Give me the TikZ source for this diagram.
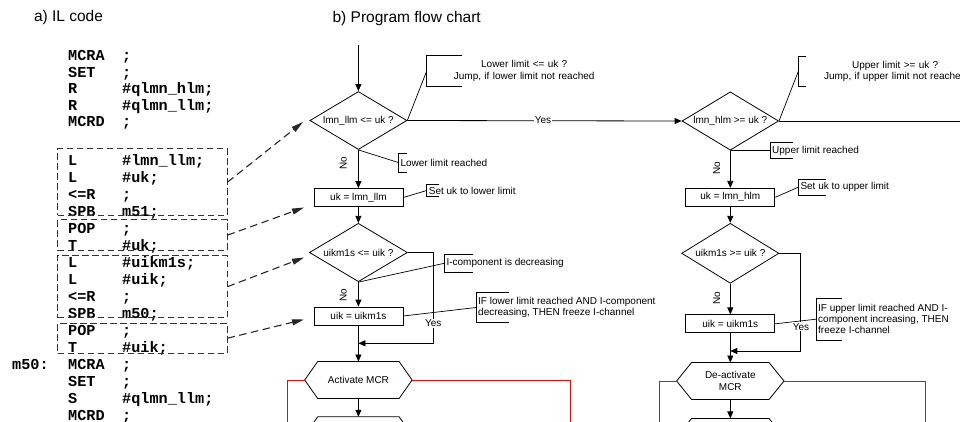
\documentclass[tikz,border=0pt]{standalone}
\usepackage{fontspec}
\setmainfont{Liberation Sans}
\newfontfamily\codefont{Liberation Mono}
\usetikzlibrary{shapes.geometric,arrows.meta}

\tikzset{
  shapeline/.style={draw=black, line width=0.8pt},
  flowline/.style={draw=black, line width=0.8pt},
  flowtip/.style={-{Triangle[length=7pt,width=6pt]}},
  noteline/.style={draw=black, line width=0.7pt},
  redline/.style={draw=red, line width=0.9pt},
  dec/.style={shapeline, diamond, aspect=1.67, inner sep=0pt},
  proc/.style={shapeline, rectangle, minimum width=89pt, minimum height=18pt, inner sep=0pt},
  hexbox/.style={minimum width=107pt, minimum height=36.6pt, inner sep=0pt, align=center},
  note/.style={inner xsep=2pt, inner ysep=0pt, anchor=west},
  codeline/.style={font=\codefont\bfseries\fontsize{15.2}{16}\selectfont, inner sep=0pt, anchor=base west},
  codebox/.style={draw=black!80, dash pattern=on 6.5pt off 3.5pt, line width=0.9pt, inner sep=0pt, anchor=north west},
  linkarrow/.style={draw=black!85, line width=1.1pt, dash pattern=on 7.5pt off 4.5pt, -{Triangle[length=12pt,width=6pt]}},
  caption/.style={font=\fontsize{15.5}{18}\selectfont, inner sep=0pt},
  lbl/.style={inner sep=1pt},
}

% hexagonal outline around a named rectangular node
\newcommand{\drawhex}[2]{%
  \draw[shapeline] (#1.west) -- ([xshift=#2]#1.north west) -- ([xshift=-#2]#1.north east)
    -- (#1.east) -- ([xshift=-#2]#1.south east) -- ([xshift=#2]#1.south west) -- cycle;}
% bracket of an annotation node
\newcommand{\drawbracket}[2]{%
  \draw[noteline] ([xshift=#2]#1.north west) -- (#1.north west) -- (#1.south west) -- ([xshift=#2]#1.south west);}

\begin{document}
\begin{tikzpicture}[x=1pt, y=-1pt, font=\fontsize{10}{11.7}\selectfont]
\useasboundingbox (0,0) rectangle (960,421);
\clip (0,0) rectangle (960,421);

% ---------- captions ----------
\node[caption] (capA) at (68.5,17.5) {a) IL code};
\node[caption] (capB) at (406.7,18.3) {b) Program flow chart};

% ---------- IL listing ----------
\foreach \yy/\mn/\op [count=\i] in {
  55.7/MCRA/;, 72.2/SET/;, 88.7/R/\#qlmn\_hlm;, 105.2/R/\#qlmn\_llm;, 121.7/MCRD/;,
  160/L/\#lmn\_llm;, 177/L/\#uk;, 194/<=R/;, 211/SPB/m51;, 228/POP/;, 245/T/\#uk;,
  262/L/\#uikm1s;, 279/L/\#uik;, 296/<=R/;, 313/SPB/m50;, 330/POP/;, 347/T/\#uik;,
  364/MCRA/;, 381/SET/;, 398/S/\#qlmn\_llm;, 415/MCRD/;}
{
  \node[codeline] (cm\i) at (68,\yy+5) {\mn};
  \node[codeline] (co\i) at (122,\yy+5) {\op};
}
\node[codeline] (m50) at (12,369) {m50:};

% dashed groups of instructions
\node[codebox, minimum width=169.4pt, minimum height=66.7pt] (b1) at (57.3,148.3) {};
\node[codebox, minimum width=169.4pt, minimum height=30.7pt] (b2) at (57.3,219.3) {};
\node[codebox, minimum width=169.4pt, minimum height=62.3pt] (b3) at (57.3,255) {};
\node[codebox, minimum width=169.4pt, minimum height=30pt] (b4) at (57.3,322.7) {};

\coordinate (t1) at (303,122);
\coordinate (t2) at (304,207.5);
\coordinate (t3) at (304,257.5);
\coordinate (t4) at (304,319.5);
\draw[linkarrow] (b1.east) -- (t1);
\draw[linkarrow] (b2.east) -- (t2);
\draw[linkarrow] (b3.east) -- (t3);
\draw[linkarrow] (b4.east) -- (t4);

% ---------- lower limit branch ----------
\coordinate (start) at (358.4,45);
\node[dec, minimum width=97pt, minimum height=58pt] (d1) at (358.4,120.5) {lmn\_llm <= uk ?};
\node[proc] (r1) at (358.4,197.5) {uk = lmn\_llm};
\node[dec, minimum width=98pt, minimum height=58.4pt] (d2) at (358.4,252.5) {uikm1s <= uik ?};
\node[proc] (r2) at (358.4,316) {uik = uikm1s};
\node[hexbox] (h1) at (358.4,380) {Activate MCR};
\node[hexbox] (h2) at (358.4,435.3) {};
\drawhex{h1}{13}
\drawhex{h2}{13}

\draw[flowline, flowtip] (start) -- (d1.north);
\draw[flowline, flowtip] (d1.south) -- (r1.north);
\draw[flowline, flowtip] (r1.south) -- (d2.north);
\draw[flowline, flowtip] (d2.south) -- (r2.north);
\draw[flowline, flowtip] (r2.south) -- (h1.north);
\draw[flowline, flowtip] (h1.south) -- (h2.north);
\node[lbl, rotate=90] (no1) at (343.3,163.3) {No};
\node[lbl, rotate=90] (no2) at (343.3,295) {No};

\coordinate (j1) at (433.3,343.3);
\coordinate (m1) at (358.4,343.3);
\draw[flowline, flowtip] (d2.east) -| (j1) -- (m1);
\node[lbl, fill=white] (yes2) at (433.3,323.3) {Yes};

\coordinate (rl1) at (287.3,430);
\coordinate (rr1) at (570.8,430);
\draw[redline] (h1.west) -| (rl1);
\draw[redline] (h1.east) -| (rr1);

% ---------- upper limit branch ----------
\node[dec, minimum width=96.6pt, minimum height=58.3pt] (D1) at (730.3,121) {lmn\_hlm >= uk ?};
\node[proc] (R1) at (730.3,197.3) {uk = lmn\_hlm};
\node[dec, minimum width=97.3pt, minimum height=60pt] (D2) at (730.3,253.3) {uikm1s >= uik ?};
\node[proc] (R2) at (730.3,323.8) {uik = uikm1s};
\node[hexbox, font=\fontsize{10}{12.7}\selectfont] (H1) at (730.3,381) {De-activate\\MCR};
\node[hexbox] (H2) at (730.3,436.9) {};
\drawhex{H1}{15}
\drawhex{H2}{15}

\draw[flowline, flowtip] (d1.east) -- (D1.west);
\node[lbl, fill=white] (yes1) at (543,120.5) {Yes};
\coordinate (exit) at (970,121);
\draw[flowline] (D1.east) -- (exit);

\draw[flowline, flowtip] (D1.south) -- (R1.north);
\draw[flowline, flowtip] (R1.south) -- (D2.north);
\draw[flowline, flowtip] (D2.south) -- (R2.north);
\draw[flowline, flowtip] (R2.south) -- (H1.north);
\draw[flowline, flowtip] (H1.south) -- (H2.north);
\node[lbl, rotate=90] (no3) at (716.7,168.3) {No};
\node[lbl, rotate=90] (no4) at (716.7,298.3) {No};

\coordinate (j2) at (800.7,351);
\coordinate (m2) at (730.3,351);
\draw[flowline, flowtip] (D2.east) -| (j2) -- (m2);

\coordinate (rl2) at (659.3,430);
\coordinate (rr2) at (925,430);
\draw[redline] (H1.west) -| (rl2);
\draw[redline] (H1.east) -| (rr2);

% ---------- annotations ----------
\node[note, minimum height=30pt, text width=190.6pt, align=center] (n1) at (426.7,71)
  {Lower limit <= uk ?\\Jump, if lower limit not reached};
\drawbracket{n1}{35}
\draw[noteline] (d1.east) -- (n1.west);

\node[note, minimum height=18.4pt] (n2) at (398.3,162.5) {Lower limit reached};
\drawbracket{n2}{9}
\draw[noteline] (d1.south) -- (n2.west);

\node[note, minimum height=11.5pt] (n3) at (426.7,190.5) {Set uk to lower limit};
\drawbracket{n3}{12}
\draw[noteline] (r1.east) -- (n3.west);

\node[note, minimum height=16.7pt] (n4) at (444.3,263.3) {I-component is decreasing};
\drawbracket{n4}{29}
\draw[noteline] (d2.south) -- (n4.west);

\node[note, minimum height=29.4pt, align=left] (n5) at (476,307.5)
  {IF lower limit reached AND I-component\\decreasing, THEN freeze I-channel};
\drawbracket{n5}{33}
\draw[noteline] (r2.east) -- (n5.west);

\node[note, minimum height=29.3pt, text width=189.4pt, align=center] (N1) at (798.3,71.3)
  {Upper limit >= uk ?\\Jump, if upper limit not reached};
\drawbracket{N1}{8}
\draw[noteline] (D1.east) -- (N1.west);

\node[note, minimum height=15.6pt] (N2) at (770,150.5) {Upper limit reached};
\drawbracket{N2}{23}
\draw[noteline] (D1.south) -- (N2.west);

\node[note, minimum height=15.7pt] (N3) at (798.3,187.2) {Set uk to upper limit};
\drawbracket{N3}{28}
\draw[noteline] (R1.east) -- (N3.west);

\node[note, minimum height=41.7pt, align=left, font=\fontsize{10}{11}\selectfont] (N4) at (816,319.2)
  {IF upper limit reached AND I-\\component increasing, THEN\\freeze I-channel};
\drawbracket{N4}{26}
\draw[noteline] (R2.east) -- (N4.west);
\node[lbl, fill=white] (yes3) at (801,326.7) {Yes};
\end{tikzpicture}
\end{document}
